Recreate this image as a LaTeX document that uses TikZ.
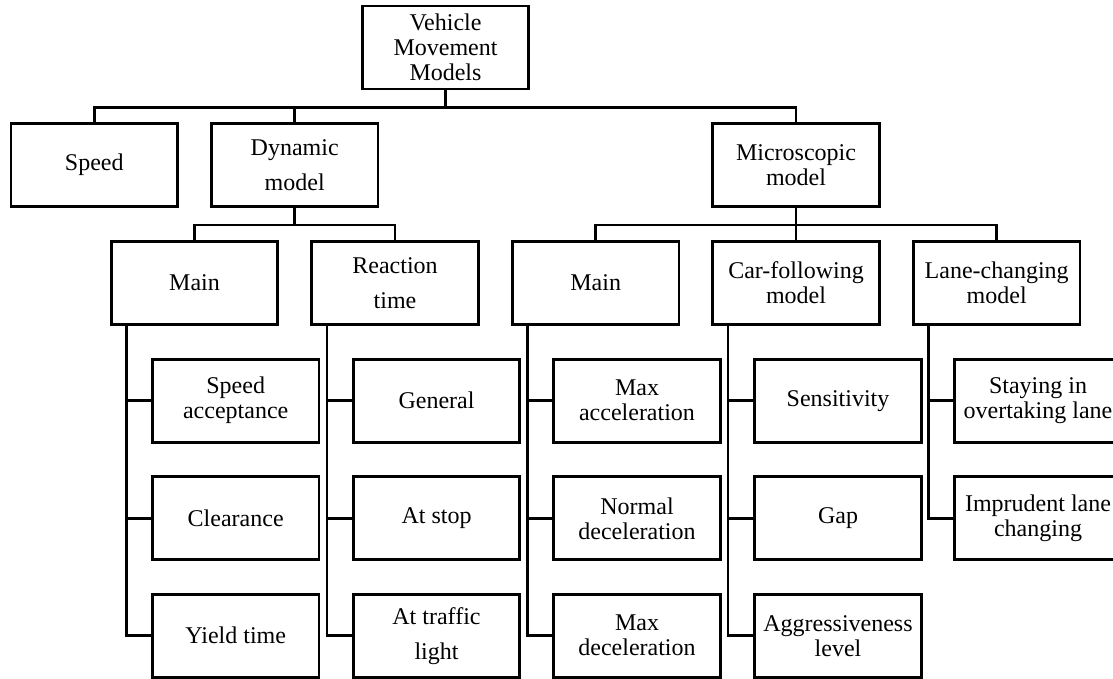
\documentclass[tikz,border=0pt]{standalone}
\usepackage{fontspec}
\setmainfont{Liberation Serif}
\begin{document}
\begin{tikzpicture}[x=1pt,y=-1pt,
  box/.style={draw=black,fill=white,line width=2.7pt,rectangle,minimum width=166.5pt,minimum height=83pt,inner sep=0pt,align=center},
  tight/.style={box,font=\fontsize{24}{25}\selectfont},
  loose/.style={box,font=\fontsize{24}{35}\selectfont},
  conn/.style={draw=black,line width=2.7pt}]
\useasboundingbox (0,0) rectangle (1113,678);
% level 0
\node[tight] (top) at (445.5,47.5) {Vehicle\\Movement\\Models};
% level 1
\node[tight] (speed) at (94.3,165) {Speed};
\node[loose] (dyn) at (294.7,165) {Dynamic\\model};
\node[tight] (micro) at (796,165) {Microscopic\\model};
% level 2
\node[tight] (main1) at (194.5,283) {Main};
\node[loose] (react) at (395,283) {Reaction\\time};
\node[tight] (main2) at (595.7,283) {Main};
\node[tight] (car) at (796,283) {Car-following\\model};
\node[tight] (lane) at (996.7,283) {Lane-changing\\model};
% children of main1
\node[tight] (sa) at (235.7,400.7) {Speed\\acceptance};
\node[tight] (cl) at (235.7,518.3) {Clearance};
\node[tight] (yt) at (235.7,635.7) {Yield time};
% children of react
\node[tight] (ge) at (436.5,400.7) {General};
\node[tight] (as) at (436.5,518.3) {At stop};
\node[loose] (at) at (436.5,635.7) {At traffic\\light};
% children of main2
\node[tight] (ma) at (637,400.7) {Max\\acceleration};
\node[tight] (nd) at (637,518.3) {Normal\\deceleration};
\node[tight] (md) at (637,635.7) {Max\\deceleration};
% children of car
\node[tight] (se) at (838,400.7) {Sensitivity};
\node[tight] (gp) at (838,518.3) {Gap};
\node[tight] (ag) at (838,635.7) {Aggressiveness\\level};
% children of lane
\node[tight] (st) at (1038,400.7) {Staying in\\overtaking lane};
\node[tight] (im) at (1038,518.3) {Imprudent lane\\changing};
% connectors level 0 -> 1
\draw[conn] (top.south) -- ++(0,17) -| (speed.north);
\draw[conn] (top.south) -- ++(0,17) -| (dyn.north);
\draw[conn] (top.south) -- ++(0,17) -| (micro.north);
% level 1 -> 2
\draw[conn] (dyn.south) -- ++(0,17) -| (main1.north);
\draw[conn] (dyn.south) -- ++(0,17) -| (react.north);
\draw[conn] (micro.south) -- ++(0,17) -| (main2.north);
\draw[conn] (micro.south) -- ++(0,17) -| (car.north);
\draw[conn] (micro.south) -- ++(0,17) -| (lane.north);
% level 2 -> children
\foreach \p/\c in {main1/sa,main1/cl,main1/yt,react/ge,react/as,react/at,main2/ma,main2/nd,main2/md,car/se,car/gp,car/ag,lane/st,lane/im}{
  \draw[conn] ([xshift=16.7pt]\p.south west) |- (\c.west);
}
\end{tikzpicture}
\end{document}
